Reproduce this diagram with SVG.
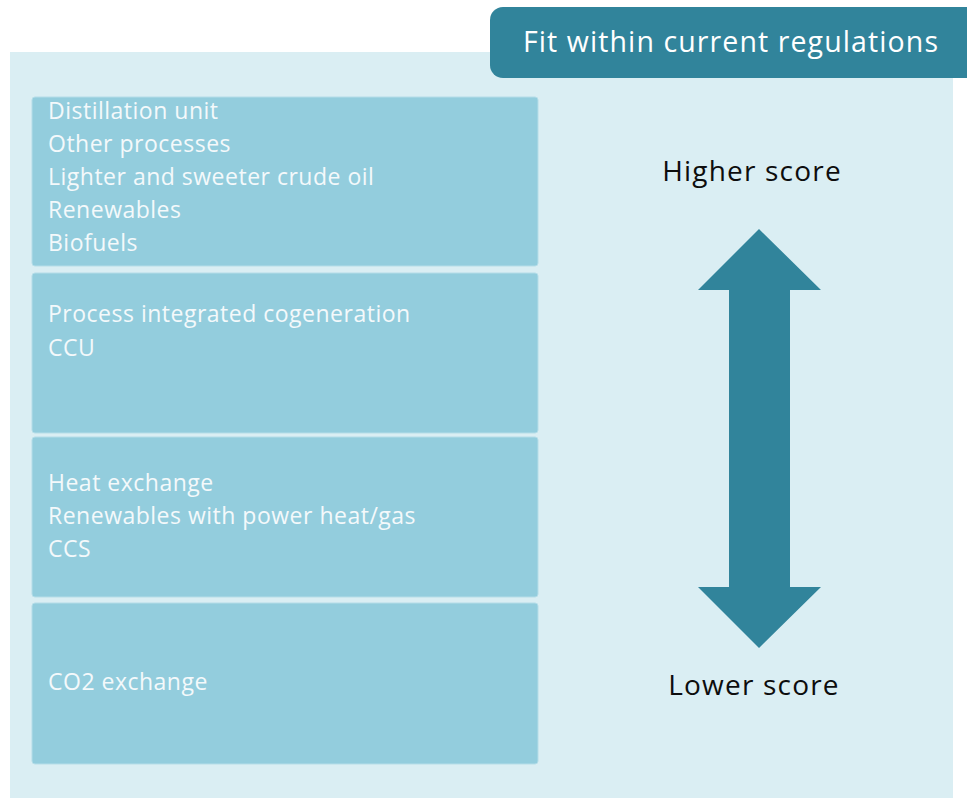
<svg xmlns="http://www.w3.org/2000/svg" width="967" height="798" viewBox="0 0 967 798">
<style>
.box{fill:#93CDDD;stroke:#B5DDE8;stroke-width:1}
.bt{font-family:"Open Sans","Liberation Sans",sans-serif;font-size:23px;letter-spacing:0.5px;fill:#F4F9FB}
.score{font-family:"Open Sans","Liberation Sans",sans-serif;font-size:28px;letter-spacing:1.2px;fill:#0D0D0D;text-anchor:middle}
</style>
<rect id="panel" x="10" y="52" width="943" height="746" fill="#DAEEF3"/>
<g id="header">
<rect x="490" y="7" width="490" height="71" rx="13" fill="#31849B"/>
<text x="731" y="52" font-family="'Open Sans','Liberation Sans',sans-serif" font-size="28.5" letter-spacing="1.1" fill="#FFFFFF" text-anchor="middle">Fit within current regulations</text>
</g>
<g id="box1">
<rect class="box" x="32" y="97" width="506" height="169" rx="3"/>
<text class="bt" x="48" y="119">Distillation unit</text>
<text class="bt" x="48" y="152">Other processes</text>
<text class="bt" x="48" y="185">Lighter and sweeter crude oil</text>
<text class="bt" x="48" y="218">Renewables</text>
<text class="bt" x="48" y="251">Biofuels</text>
</g>
<g id="box2">
<rect class="box" x="32" y="273" width="506" height="160" rx="3"/>
<text class="bt" x="48" y="322">Process integrated cogeneration</text>
<text class="bt" x="48" y="356">CCU</text>
</g>
<g id="box3">
<rect class="box" x="32" y="437" width="506" height="160" rx="3"/>
<text class="bt" x="48" y="491">Heat exchange</text>
<text class="bt" x="48" y="524">Renewables with power heat/gas</text>
<text class="bt" x="48" y="557">CCS</text>
</g>
<g id="box4">
<rect class="box" x="32" y="603" width="506" height="161" rx="3"/>
<text class="bt" x="48" y="690">CO2 exchange</text>
</g>
<g id="connectors">
<polygon points="759,229 821,290 790,290 790,587 821,587 759,648 698,587 729,587 729,290 698,290" fill="#31849B"/>
</g>
<g id="labels">
<text class="score" x="752" y="181">Higher score</text>
<text class="score" x="754" y="695">Lower score</text>
</g>
</svg>
